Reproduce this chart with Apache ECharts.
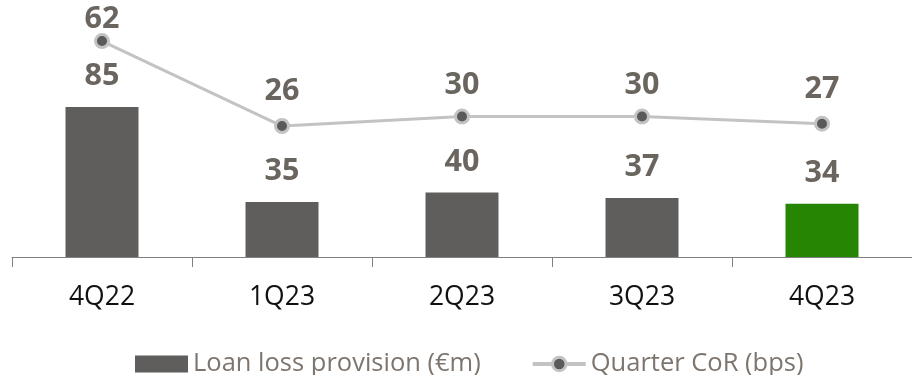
<!DOCTYPE html>
<html>
<head>
<meta charset="utf-8">
<script src="https://cdn.jsdelivr.net/npm/echarts@6/dist/echarts.min.js"></script>
<style>
  html, body { margin: 0; padding: 0; background: #fff; }
  #chart { width: 912px; height: 375px; }
</style>
</head>
<body>
<div id="chart"></div>
<script>
// Quarterly loan loss provisions and cost of risk
const quarters = ['4Q22', '1Q23', '2Q23', '3Q23', '4Q23'];
const provisions = [85, 35, 40, 37, 34];     // €m
const costOfRisk = [62, 26, 30, 30, 27];     // bps

// label gap above each CoR point (px), so the labels clear the bars below
const corLabelGap = [-2, 11, 8, 8, 11];

const barGrey = '#5f5e5c';
const latestGreen = '#268503';
const valueColor = '#6b655f';
const lineGrey = '#c3c3c3';
const dotGrey = '#5a5a5a';
const FONT = '"Open Sans", Lato, sans-serif';

const barData = provisions.map((v, i) => ({
  value: v,
  itemStyle: { color: i === provisions.length - 1 ? latestGreen : barGrey }
}));

const corData = costOfRisk.map((v, i) => ({
  value: v,
  label: { distance: corLabelGap[i] }
}));

const valueLabel = {
  show: true,
  position: 'top',
  fontSize: 30.5,
  fontWeight: 'bold',
  color: valueColor,
  fontFamily: FONT
};

const chart = echarts.init(document.getElementById('chart'));
chart.setOption({
  animation: false,
  textStyle: { fontFamily: FONT },
  grid: { left: 12, right: -5, top: 0, bottom: 118, containLabel: false },
  legend: {
    left: 130,
    top: 346,
    itemGap: 50,
    itemWidth: 53,
    itemHeight: 17,
    textStyle: { fontSize: 25.5, color: '#7d756e', fontFamily: FONT },
    data: [
      { name: 'Loan loss provision (€m)', icon: 'rect' },
      {
        name: 'Quarter CoR (bps)',
        lineStyle: { color: lineGrey, width: 4 },
        itemStyle: { color: dotGrey, borderColor: lineGrey, borderWidth: 3 }
      }
    ]
  },
  xAxis: {
    type: 'category',
    data: quarters,
    boundaryGap: true,
    axisLine: { onZero: false, lineStyle: { color: '#808080', width: 1 } },
    axisTick: { show: true, length: 10, inside: false, lineStyle: { color: '#808080' } },
    axisLabel: { fontSize: 26.5, color: '#111', margin: 27, fontFamily: FONT }
  },
  yAxis: [
    { type: 'value', min: 6, max: 141.3, show: false, splitLine: { show: false } },
    { type: 'value', min: -29.5, max: 79.4, show: false, splitLine: { show: false } }
  ],
  series: [
    {
      name: 'Loan loss provision (€m)',
      type: 'bar',
      yAxisIndex: 0,
      data: barData,
      barWidth: 73,
      itemStyle: { color: barGrey },
      label: Object.assign({ distance: 15 }, valueLabel)
    },
    {
      name: 'Quarter CoR (bps)',
      type: 'line',
      yAxisIndex: 1,
      data: corData,
      symbol: 'circle',
      symbolSize: 13,
      lineStyle: { color: lineGrey, width: 3 },
      itemStyle: { color: dotGrey, borderColor: lineGrey, borderWidth: 3 },
      label: valueLabel,
      z: 3
    }
  ]
});
</script>
</body>
</html>
